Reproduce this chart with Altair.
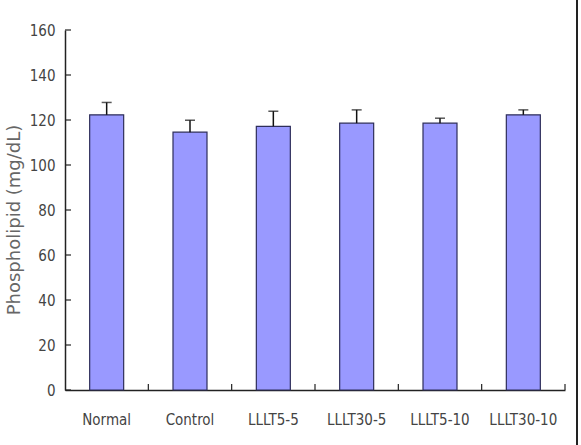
import altair as alt
import pandas as pd

categories = ["Normal", "Control", "LLLT5-5", "LLLT30-5", "LLLT5-10", "LLLT30-10"]
means = [122.3, 114.6, 117.2, 118.6, 118.6, 122.3]
errors = [5.5, 5.3, 6.7, 5.9, 2.2, 2.2]
y_ticks = [0, 20, 40, 60, 80, 100, 120, 140, 160]
y_title = "Phospholipid (mg/dL)"

df = pd.DataFrame({"cat": categories, "mean": means, "err": errors})
df["upper"] = df["mean"] + df["err"]
ticks_df = pd.DataFrame({"v": y_ticks})

W, H = 500, 360
LABEL_FONT = "DejaVu Sans Condensed, Roboto Condensed, Roboto, sans-serif"

xscale = alt.Scale(domain=categories, paddingInner=0, paddingOuter=0)
yscale = alt.Scale(domain=[0, 160], nice=False)

base = alt.Chart(df)

bars = base.mark_bar(width=34, color="#9999ff", stroke="#2e2e5a", strokeWidth=1.2).encode(
    x=alt.X("cat:N", scale=xscale, sort=categories,
            axis=alt.Axis(title=None, labelAngle=0, ticks=False, labelPadding=22,
                          labelFont=LABEL_FONT, labelFontSize=15, labelColor="#444",
                          domainColor="#222", domainWidth=1.5)),
    y=alt.Y("mean:Q", scale=yscale,
            axis=alt.Axis(title=None, values=y_ticks, grid=False, ticks=False,
                          labelPadding=10, labelFont=LABEL_FONT, labelFontSize=15,
                          labelColor="#444", domainColor="#222", domainWidth=1.5)),
)

err_rule = base.mark_rule(color="#111", strokeWidth=1.5).encode(
    x=alt.X("cat:N", scale=xscale, sort=categories),
    y=alt.Y("mean:Q", scale=yscale),
    y2="upper:Q",
)

err_cap = base.mark_tick(color="#111", size=10, thickness=1.5).encode(
    x=alt.X("cat:N", scale=xscale, sort=categories),
    y=alt.Y("upper:Q", scale=yscale),
)

x_ticks = base.mark_rule(color="#222", strokeWidth=1.2).encode(
    x=alt.X("cat:N", scale=xscale, sort=categories, bandPosition=1),
    y=alt.value(H),
    y2=alt.value(H - 6),
)

y_tick_marks = alt.Chart(ticks_df).mark_rule(color="#222", strokeWidth=1.2).encode(
    y=alt.Y("v:Q", scale=yscale),
    x=alt.value(0),
    x2=alt.value(6),
)

title = alt.Chart(pd.DataFrame({"t": [y_title]})).mark_text(
    angle=270, font="DejaVu Sans", fontSize=18,
    color="#666", align="center", baseline="middle",
).encode(text="t:N", x=alt.value(-50), y=alt.value(190))

border = alt.Chart(pd.DataFrame({"a": [0]})).mark_rule(color="#222", strokeWidth=2).encode(
    x=alt.value(512), y=alt.value(-30), y2=alt.value(H + 55),
)

chart = alt.layer(bars, err_rule, err_cap, x_ticks, y_tick_marks, title, border).properties(
    width=W, height=H,
    autosize=alt.AutoSizeParams(type="none"),
    padding={"left": 65, "top": 30, "right": 16, "bottom": 55},
    background="white",
).configure_view(stroke=None)

chart.save("out.html", embed_options={"renderer": "svg", "actions": False})
